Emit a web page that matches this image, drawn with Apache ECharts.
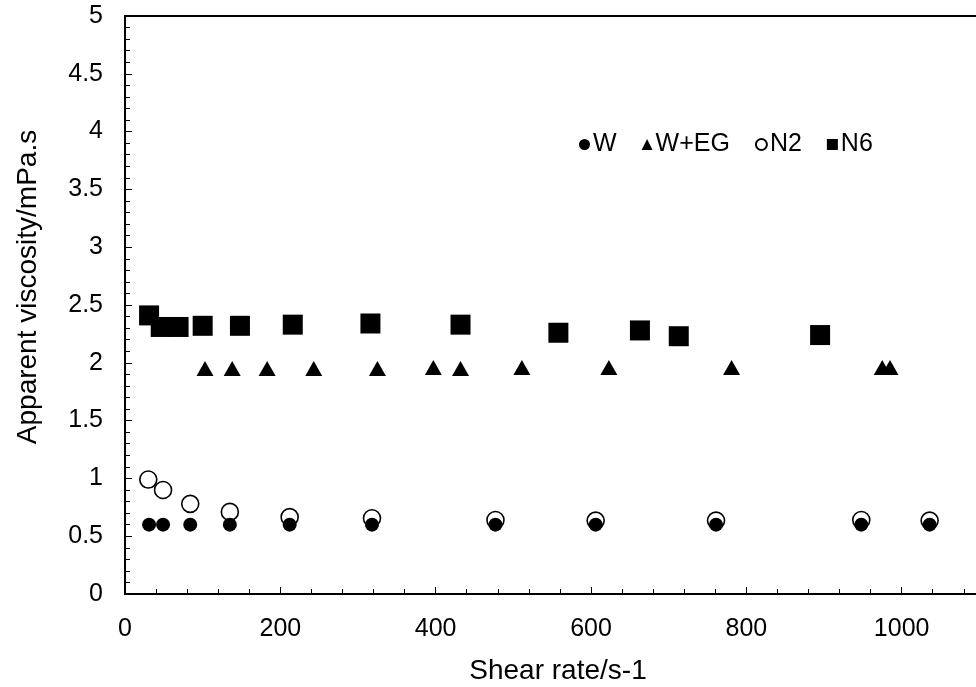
<!DOCTYPE html>
<html><head><meta charset="utf-8">
<script src="https://cdn.jsdelivr.net/npm/echarts@6/dist/echarts.min.js"></script>
<style>html,body{margin:0;padding:0;background:#fff}#c{width:976px;height:687px}</style>
</head><body><div id="c"></div>
<script>
// Data
const seriesNames = ['W', 'W+EG', 'N2', 'N6'];
const wX = [31, 49, 84, 135, 212, 318, 477, 606, 761, 948, 1036];
const wY = [0.60, 0.60, 0.60, 0.60, 0.60, 0.60, 0.60, 0.60, 0.60, 0.60, 0.60];
const wegX = [103, 138, 183, 243, 325, 397, 432, 511, 623, 781, 975, 985];
const wegY = [1.95, 1.95, 1.95, 1.95, 1.95, 1.96, 1.95, 1.96, 1.96, 1.96, 1.96, 1.96];
const n2X = [30, 49, 84, 135, 212, 318, 477, 606, 761, 948, 1036];
const n2Y = [0.99, 0.90, 0.78, 0.71, 0.665, 0.655, 0.64, 0.635, 0.635, 0.64, 0.635];
const n6X = [31, 46, 69, 100, 148, 216, 316, 432, 558, 663, 713, 895];
const n6Y = [2.41, 2.31, 2.31, 2.32, 2.32, 2.33, 2.34, 2.33, 2.26, 2.28, 2.23, 2.24];
const xTicks = {min: 0, max: 1200, interval: 200};
const yTicks = {min: 0, max: 5, interval: 0.5};
const xTitle = 'Shear rate/s-1';
const yTitle = 'Apparent viscosity/mPa.s';

const zip = (a, b) => a.map((v, i) => [v, b[i]]);
const font = '"Liberation Sans", Arial, sans-serif';
const chart = echarts.init(document.getElementById('c'), null, {renderer: 'canvas'});
chart.setOption({
  animation: false,
  backgroundColor: '#fff',
  grid: {left: 125, top: 16, bottom: 93, width: 932, outerBoundsMode: 'none', containLabel: false,
         show: true, borderColor: '#000', borderWidth: 2, backgroundColor: 'transparent'},
  legend: {
    data: seriesNames, left: 574, top: 127, itemWidth: 11, itemHeight: 11, itemGap: 25,
    textStyle: {fontFamily: font, fontSize: 25, color: '#000', padding: [0, 0, 0, -2]}
  },
  graphic: [
    {type: 'text', x: 558, y: 671, style: {text: xTitle, font: '28px ' + font, fill: '#000', textAlign: 'center', textVerticalAlign: 'middle'}},
    {type: 'text', x: 28, y: 287, rotation: Math.PI / 2, style: {text: yTitle, font: '28px ' + font, fill: '#000', textAlign: 'center', textVerticalAlign: 'middle'}}
  ],
  xAxis: {
    type: 'value', min: xTicks.min, max: xTicks.max, interval: xTicks.interval,
    axisLine: {lineStyle: {color: '#000', width: 2}},
    axisTick: {inside: true, length: 7, lineStyle: {color: '#000', width: 1}},
    minorTick: {show: true, splitNumber: 5, length: 5, lineStyle: {color: '#000', width: 1}},
    splitLine: {show: false},
    axisLabel: {color: '#000', fontFamily: font, fontSize: 25, margin: 23, formatter: v => String(v)}
  },
  yAxis: {
    type: 'value', min: yTicks.min, max: yTicks.max, interval: yTicks.interval,
    axisLine: {show: true, lineStyle: {color: '#000', width: 2}},
    axisTick: {show: true, inside: true, length: 7, lineStyle: {color: '#000', width: 1}},
    minorTick: {show: true, splitNumber: 5, length: 5, lineStyle: {color: '#000', width: 1}},
    splitLine: {show: false},
    axisLabel: {color: '#000', fontFamily: font, fontSize: 25, margin: 22, formatter: v => String(v)}
  },
  series: [
    {name: 'W', type: 'scatter', z: 5, symbol: 'circle', symbolSize: 14, data: zip(wX, wY), itemStyle: {color: '#000', opacity: 1}},
    {name: 'W+EG', type: 'scatter', z: 4, symbol: 'triangle', symbolSize: [17, 15], data: zip(wegX, wegY), itemStyle: {color: '#000', opacity: 1}},
    {name: 'N2', type: 'scatter', z: 3, symbol: 'circle', symbolSize: 17, data: zip(n2X, n2Y), itemStyle: {color: '#fff', borderColor: '#000', borderWidth: 1.6, opacity: 1}},
    {name: 'N6', type: 'scatter', z: 4, symbol: 'rect', symbolSize: 20, data: zip(n6X, n6Y), itemStyle: {color: '#000', opacity: 1}}
  ]
});
</script></body></html>
